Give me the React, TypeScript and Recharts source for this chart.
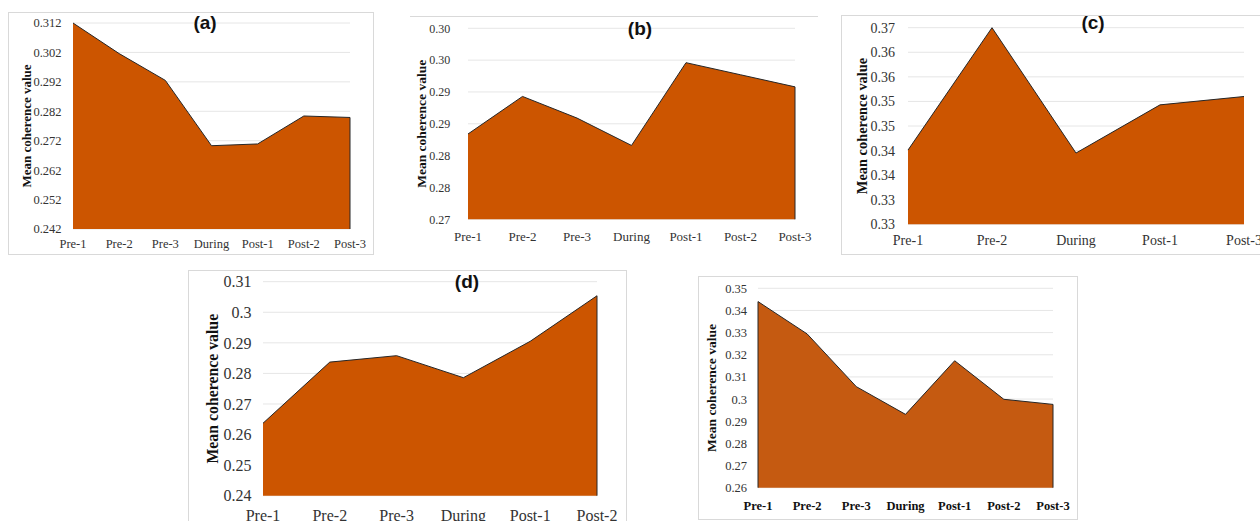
import { AreaChart, Area, XAxis, YAxis, CartesianGrid, ReferenceLine } from 'recharts';

// phases shown on the x axes
const FULL_PHASES = ['Pre-1', 'Pre-2', 'Pre-3', 'During', 'Post-1', 'Post-2', 'Post-3'];
const C_PHASES = ['Pre-1', 'Pre-2', 'During', 'Post-1', 'Post-3'];
const D_PHASES = ['Pre-1', 'Pre-2', 'Pre-3', 'During', 'Post-1', 'Post-2'];

// mean coherence values
const A_VALUES = [0.312, 0.3016, 0.2925, 0.2703, 0.2709, 0.2804, 0.2799];
const B_VALUES = [0.2834, 0.2893, 0.2859, 0.2816, 0.2946, 0.2927, 0.2908];
const C_VALUES = [0.3451, 0.37, 0.3445, 0.3543, 0.356];
const D_VALUES = [0.2637, 0.2837, 0.2858, 0.2786, 0.2905, 0.3054];
const E_VALUES = [0.344, 0.3294, 0.3056, 0.2931, 0.3173, 0.2999, 0.2976];

// y ticks and the labels printed next to them
const A_TICKS = [0.242, 0.252, 0.262, 0.272, 0.282, 0.292, 0.302, 0.312];
const A_TICK_LABELS = ['0.242', '0.252', '0.262', '0.272', '0.282', '0.292', '0.302', '0.312'];
const B_TICKS = [0.27, 0.275, 0.28, 0.285, 0.29, 0.295, 0.3];
const B_TICK_LABELS = ['0.27', '0.28', '0.28', '0.29', '0.29', '0.30', '0.30'];
const C_TICKS = [0.33, 0.335, 0.34, 0.345, 0.35, 0.355, 0.36, 0.365, 0.37];
const C_TICK_LABELS = ['0.33', '0.33', '0.34', '0.34', '0.35', '0.35', '0.36', '0.36', '0.37'];
const D_TICKS = [0.24, 0.25, 0.26, 0.27, 0.28, 0.29, 0.3, 0.31];
const D_TICK_LABELS = ['0.24', '0.25', '0.26', '0.27', '0.28', '0.29', '0.3', '0.31'];
const E_TICKS = [0.26, 0.27, 0.28, 0.29, 0.3, 0.31, 0.32, 0.33, 0.34, 0.35];
const E_TICK_LABELS = ['0.26', '0.27', '0.28', '0.29', '0.3', '0.31', '0.32', '0.33', '0.34', '0.35'];

const Y_TITLE = 'Mean coherence value';
const SERIF = '"Liberation Serif", "Times New Roman", serif';
const SANS = '"Liberation Sans", Arial, sans-serif';
const GRID = '#e6e6e6';
const BORDER = '1px solid #d9d9d9';
const TICK_COLOR = '#333';

interface Layout {
  frame: { x: number; y: number; w: number; h: number };
  plot: { left: number; top: number; right: number; bottom: number };
  border: React.CSSProperties;
  tickGap: number;
  tickFont: number;
  xTickMargin: number;
  xFont: number;
  xBold?: boolean;
  yTitleX: number;
  yTitleFont: number;
  fill: string;
  edges: string[];
  title?: { text: string; x: number; y: number };
}

const LAYOUT_A: Layout = {
  frame: { x: 8, y: 12, w: 366, h: 243 },
  plot: { left: 73, top: 23, right: 350, bottom: 229 },
  border: { border: BORDER },
  tickGap: 11.5,
  tickFont: 12.5,
  xTickMargin: 10.5,
  xFont: 12.5,
  yTitleX: 26,
  yTitleFont: 13,
  fill: '#CC5500',
  edges: ['Post-3'],
  title: { text: '(a)', x: 205, y: 22 },
};

const LAYOUT_B: Layout = {
  frame: { x: 410, y: 16, w: 408, h: 234 },
  plot: { left: 468, top: 28.3, right: 795, bottom: 219.3 },
  border: { borderTop: BORDER },
  tickGap: 17.7,
  tickFont: 12,
  xTickMargin: 12,
  xFont: 13,
  yTitleX: 421,
  yTitleFont: 13.5,
  fill: '#CC5500',
  edges: ['Post-3'],
  title: { text: '(b)', x: 640, y: 28 },
};

const LAYOUT_C: Layout = {
  frame: { x: 841, y: 15, w: 419, h: 240 },
  plot: { left: 908, top: 27.7, right: 1244, bottom: 224.3 },
  border: { borderLeft: BORDER, borderTop: BORDER, borderBottom: BORDER },
  tickGap: 13,
  tickFont: 14,
  xTickMargin: 10.8,
  xFont: 14,
  yTitleX: 862,
  yTitleFont: 14.4,
  fill: '#CC5500',
  edges: [],
  title: { text: '(c)', x: 1093, y: 22 },
};

const LAYOUT_D: Layout = {
  frame: { x: 188, y: 270, w: 439, h: 251 },
  plot: { left: 263, top: 281.7, right: 597, bottom: 495.7 },
  border: { borderLeft: BORDER, borderTop: BORDER, borderRight: BORDER },
  tickGap: 11.6,
  tickFont: 16,
  xTickMargin: 13.5,
  xFont: 16,
  yTitleX: 212,
  yTitleFont: 15.8,
  fill: '#CC5500',
  edges: ['Post-2'],
  title: { text: '(d)', x: 467, y: 281 },
};

const LAYOUT_E: Layout = {
  frame: { x: 698, y: 276, w: 380, h: 244 },
  plot: { left: 758, top: 288.3, right: 1053, bottom: 487.7 },
  border: { border: BORDER },
  tickGap: 11,
  tickFont: 12.5,
  xTickMargin: 13.3,
  xFont: 12.5,
  xBold: true,
  yTitleX: 711,
  yTitleFont: 13.5,
  fill: '#C55A11',
  edges: ['Pre-1', 'Post-3'],
};

interface PanelProps {
  categories: string[];
  values: number[];
  ticks: number[];
  tickLabels: string[];
  layout: Layout;
}

function CoherencePanel({ categories, values, ticks, tickLabels, layout }: PanelProps) {
  const rows = categories.map((phase, i) => ({ phase, value: values[i] }));
  const { frame, plot } = layout;
  const margin = {
    top: plot.top - frame.y,
    right: frame.x + frame.w - plot.right,
    left: 0,
    bottom: 0,
  };
  const yAxisWidth = plot.left - frame.x;
  const xAxisHeight = frame.y + frame.h - plot.bottom;
  const yMin = ticks[0];

  return (
    <>
      <div
        style={{
          position: 'absolute',
          left: frame.x,
          top: frame.y,
          width: frame.w,
          height: frame.h,
          boxSizing: 'border-box',
          ...layout.border,
        }}
      />
      <div style={{ position: 'absolute', left: frame.x, top: frame.y }}>
        <AreaChart width={frame.w} height={frame.h} data={rows} margin={margin}>
          <CartesianGrid vertical={false} stroke={GRID} />
          <XAxis
            dataKey="phase"
            height={xAxisHeight}
            interval={0}
            axisLine={false}
            tickLine={false}
            tickSize={0}
            tickMargin={layout.xTickMargin}
            tick={{
              fill: layout.xBold ? '#111' : TICK_COLOR,
              fontSize: layout.xFont,
              fontFamily: SERIF,
              fontWeight: layout.xBold ? 'bold' : 'normal',
            }}
          />
          <YAxis
            type="number"
            width={yAxisWidth}
            domain={[yMin, ticks[ticks.length - 1]]}
            ticks={ticks}
            interval={0}
            axisLine={false}
            tickLine={false}
            tickSize={0}
            tickMargin={layout.tickGap}
            tickFormatter={(_v: number, i: number) => tickLabels[i]}
            tick={{ fill: TICK_COLOR, fontSize: layout.tickFont, fontFamily: SERIF }}
            label={{
              value: Y_TITLE,
              angle: -90,
              position: 'insideLeft',
              offset: layout.yTitleX - frame.x,
              style: {
                textAnchor: 'middle',
                fontWeight: 'bold',
                fontSize: layout.yTitleFont,
                fontFamily: SERIF,
                fill: '#111',
              },
            }}
          />
          <Area
            type="linear"
            dataKey="value"
            stroke="#262626"
            strokeWidth={1}
            fill={layout.fill}
            fillOpacity={1}
            dot={false}
            activeDot={false}
            isAnimationActive={false}
          />
          {layout.edges.map((phase) => (
            <ReferenceLine
              key={phase}
              segment={[
                { x: phase, y: yMin },
                { x: phase, y: values[categories.indexOf(phase)] },
              ]}
              stroke="#262626"
              strokeWidth={1}
            />
          ))}
        </AreaChart>
      </div>
      {layout.title && (
        <div
          style={{
            position: 'absolute',
            left: layout.title.x,
            top: layout.title.y,
            transform: 'translate(-50%, -50%)',
            fontFamily: SANS,
            fontWeight: 'bold',
            fontSize: 19,
            color: '#111',
            lineHeight: 1,
          }}
        >
          {layout.title.text}
        </div>
      )}
    </>
  );
}

export default function App() {
  return (
    <div
      style={{
        position: 'absolute',
        left: 0,
        top: 0,
        width: 1260,
        height: 521,
        overflow: 'hidden',
        background: '#fff',
      }}
    >
      <CoherencePanel categories={FULL_PHASES} values={A_VALUES} ticks={A_TICKS} tickLabels={A_TICK_LABELS} layout={LAYOUT_A} />
      <CoherencePanel categories={FULL_PHASES} values={B_VALUES} ticks={B_TICKS} tickLabels={B_TICK_LABELS} layout={LAYOUT_B} />
      <CoherencePanel categories={C_PHASES} values={C_VALUES} ticks={C_TICKS} tickLabels={C_TICK_LABELS} layout={LAYOUT_C} />
      <CoherencePanel categories={D_PHASES} values={D_VALUES} ticks={D_TICKS} tickLabels={D_TICK_LABELS} layout={LAYOUT_D} />
      <CoherencePanel categories={FULL_PHASES} values={E_VALUES} ticks={E_TICKS} tickLabels={E_TICK_LABELS} layout={LAYOUT_E} />
    </div>
  );
}
